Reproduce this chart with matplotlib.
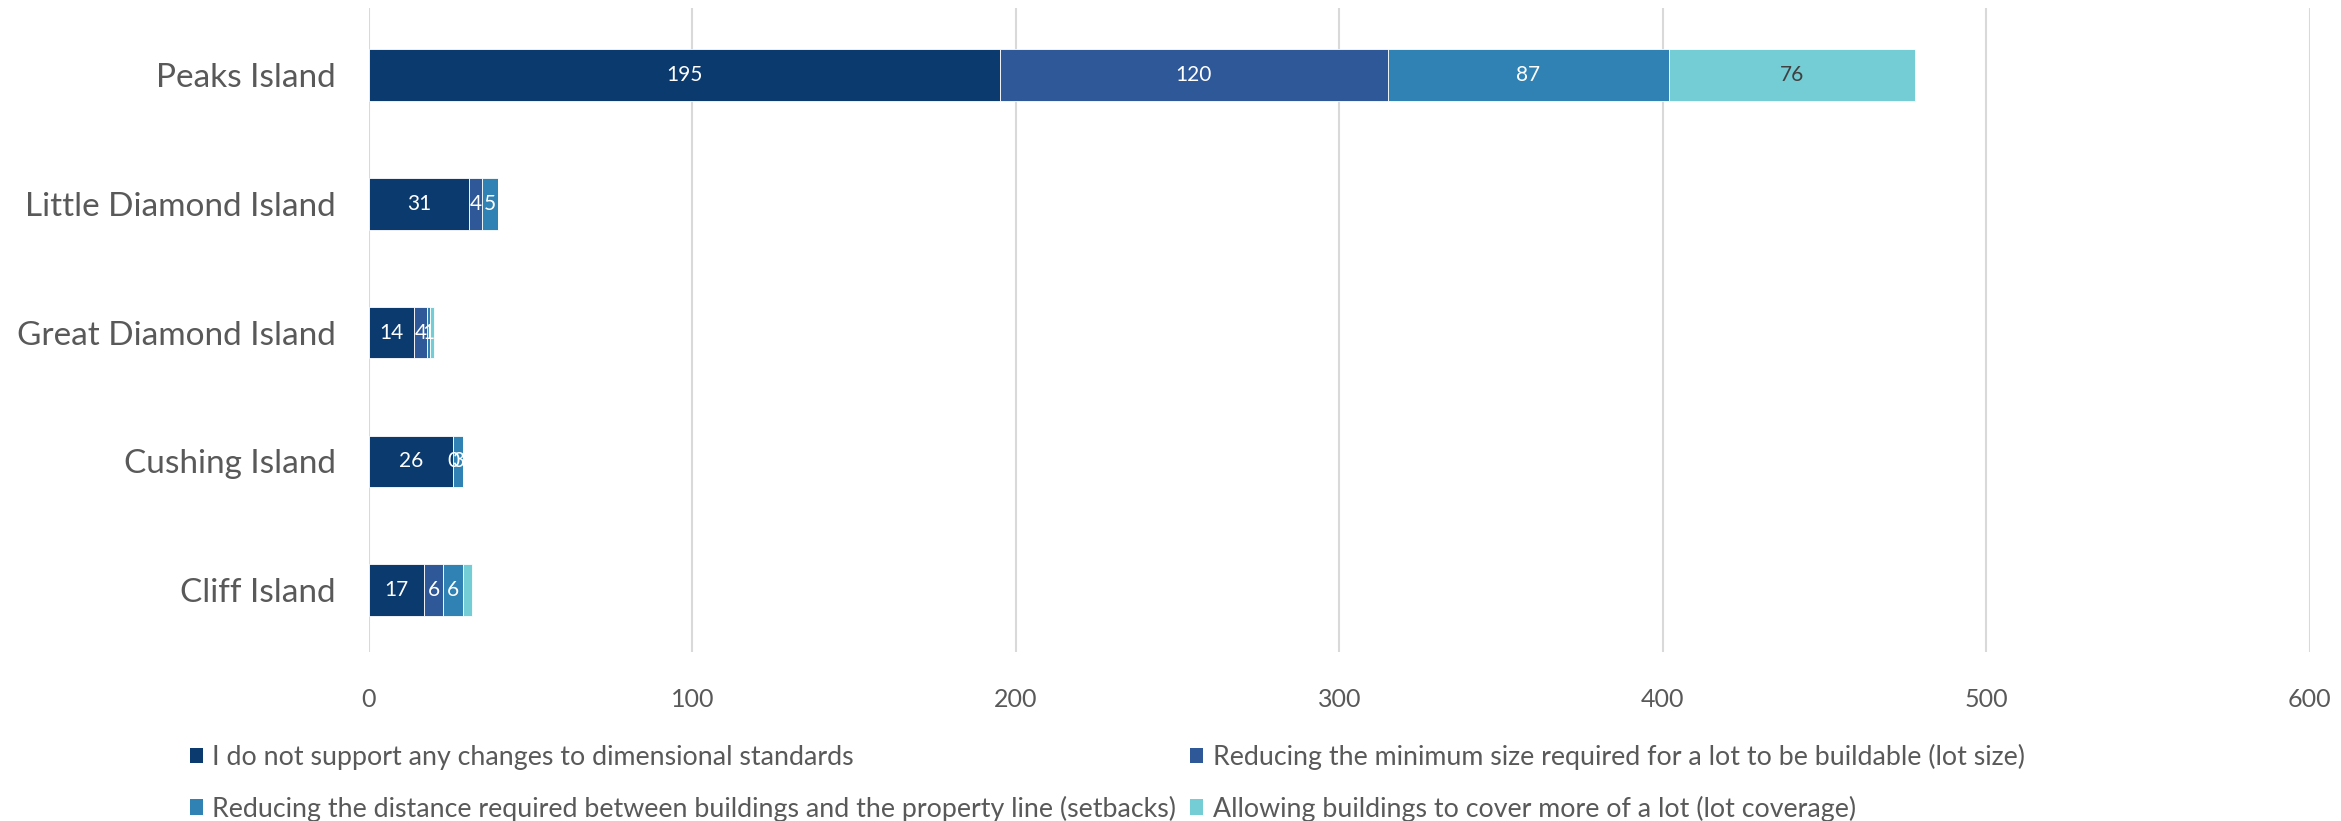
import matplotlib.pyplot as plt
from matplotlib.patches import Patch
import numpy as np

islands = ["Cliff Island", "Cushing Island", "Great Diamond Island",
           "Little Diamond Island", "Peaks Island"]
no_change = [17, 26, 14, 31, 195]
lot_size = [6, 0, 4, 4, 120]
setbacks = [6, 3, 1, 5, 87]
coverage = [3, 0, 1, 0, 76]

# text shown on each segment (None = no label)
no_change_lbl = ["17", "26", "14", "31", "195"]
lot_size_lbl = ["6", "0", "4", "4", "120"]
setbacks_lbl = ["6", "3", "1", "5", "87"]
coverage_lbl = [None, None, None, None, "76"]

series_names = [
    "I do not support any changes to dimensional standards",
    "Reducing the minimum size required for a lot to be buildable (lot size)",
    "Reducing the distance required between buildings and the property line (setbacks)",
    "Allowing buildings to cover more of a lot (lot coverage)",
]
colors = ["#0b3a6e", "#2f5898", "#2f82b3", "#74ccd4"]
label_colors = ["white", "white", "white", "#404040"]
xticks = [0, 100, 200, 300, 400, 500, 600]

plt.rcParams["font.family"] = ["Lato", "DejaVu Sans"]

fig = plt.figure(figsize=(23.41, 8.21), dpi=100)
ax = fig.add_axes([0.1576, 0.206, 0.829, 0.784])

y = np.arange(len(islands))
left = np.zeros(len(islands))
all_vals = [no_change, lot_size, setbacks, coverage]
all_lbls = [no_change_lbl, lot_size_lbl, setbacks_lbl, coverage_lbl]
for vals, lbls, col, tcol in zip(all_vals, all_lbls, colors, label_colors):
    vals = np.array(vals, dtype=float)
    ax.barh(y, vals, left=left, height=0.4, color=col, zorder=3,
            edgecolor="white", linewidth=0.6)
    for yi, (l, v, t) in enumerate(zip(left, vals, lbls)):
        if t is not None:
            ax.text(l + v / 2, yi, t, ha="center", va="center",
                    color=tcol, fontsize=15, zorder=4)
    left += vals

ax.set_xlim(0, 600)
ax.set_ylim(-0.48, 4.52)
ax.set_xticks(xticks)
ax.set_xticklabels([str(t) for t in xticks], fontsize=18, color="#595959")
ax.set_yticks(y)
ax.set_yticklabels(islands, fontsize=24, color="#595959")
ax.tick_params(axis="both", length=0)
ax.tick_params(axis="x", pad=26)
ax.tick_params(axis="y", pad=24)
for s in ax.spines.values():
    s.set_visible(False)
ax.grid(axis="x", color="#d9d9d9", linewidth=1.5, zorder=0)
ax.set_axisbelow(True)

# legend laid out row by row
order = [0, 2, 1, 3]
handles = [Patch(facecolor=colors[i], edgecolor="none") for i in order]
names = [series_names[i] for i in order]
fig.legend(handles, names, ncol=2, loc="upper left",
           bbox_to_anchor=(0.081, 0.094), frameon=False, fontsize=19.3,
           labelcolor="#595959", handlelength=0.5, handleheight=0.5,
           handletextpad=0.35, columnspacing=0.5, labelspacing=0.95,
           borderaxespad=0, borderpad=0)

fig.savefig("out.png", dpi=100, facecolor="white")
